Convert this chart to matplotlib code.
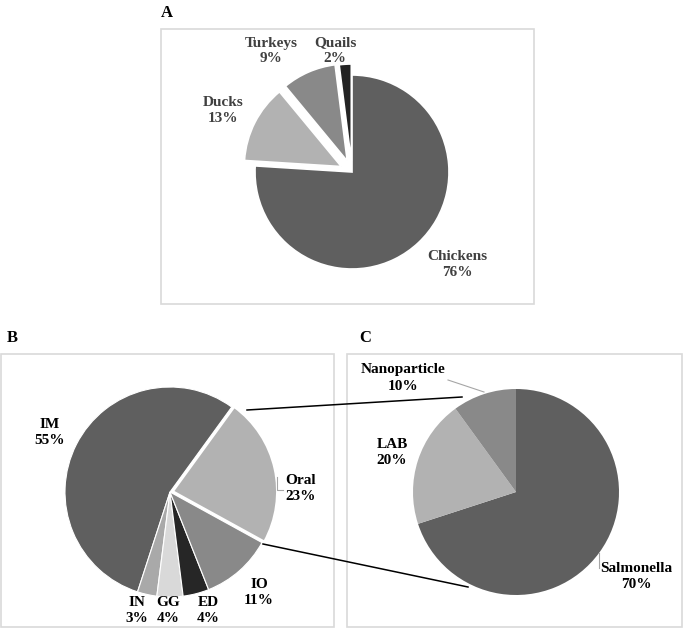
import numpy as np
import matplotlib
matplotlib.use("Agg")
import matplotlib.pyplot as plt
from matplotlib.patches import Rectangle

# ---------------- data ----------------
a_labels = ["Chickens", "Ducks", "Turkeys", "Quails"]
a_values = [76, 13, 9, 2]
a_colors = ["#5f5f5f", "#b2b2b2", "#898989", "#232323"]

b_labels = ["IM", "IN", "GG", "ED", "IO", "Oral"]
b_values = [55, 3, 4, 4, 11, 23]
b_colors = ["#5f5f5f", "#a9a9a9", "#d9d9d9", "#262626", "#898989", "#b2b2b2"]

c_labels = ["Salmonella", "LAB", "Nanoparticle"]
c_values = [70, 20, 10]
c_colors = ["#5f5f5f", "#b2b2b2", "#898989"]

# ---------------- layout (pixel coords) ----------------
W, H = 685, 630
fig = plt.figure(figsize=(W / 100, H / 100), dpi=100)
ax = fig.add_axes([0, 0, 1, 1])

def Y(y):
    return H - y

FONT = "Liberation Serif"
FS = 11

# boxes
for (x0, y0, x1, y1) in [(161, 29, 534, 304), (1, 354, 334, 627), (347, 354, 682, 627)]:
    ax.add_patch(Rectangle((x0, Y(y1)), x1 - x0, y1 - y0, fill=False,
                           edgecolor="#d9d9d9", lw=1.2, zorder=0))

# panel letters
for letter, (x, y) in zip("ABC", [(167, 13), (12, 338), (365, 338)]):
    ax.text(x, Y(y), letter, fontfamily=FONT, fontweight="bold", fontsize=12,
            ha="center", va="center", color="black")

# Pie A
ax.pie(a_values, colors=a_colors, startangle=90, counterclock=False,
       explode=[0, 12, 12, 11], center=(352, Y(172)), radius=97,
       wedgeprops=dict(edgecolor="white", linewidth=1.2), frame=True)

# Pie B
wb, _ = ax.pie(b_values, colors=b_colors, startangle=54, counterclock=True,
               explode=[0, 0, 0, 0, 0, 2.5], center=(170, Y(492)), radius=105,
               wedgeprops=dict(edgecolor="white", linewidth=0.8), frame=True)
wb[-1].set_linewidth(2.0)

# Pie C
ax.pie(c_values, colors=c_colors, startangle=90, counterclock=False,
       center=(516, Y(492)), radius=103,
       wedgeprops=dict(edgecolor="none", linewidth=0), frame=True)

# labels
def lab(text, val, x, y, color):
    ax.text(x, Y(y), f"{text}\n{val}%", fontfamily=FONT, fontweight="bold",
            fontsize=FS, ha="center", va="center", color=color, linespacing=1.3)

a_pos = [(457, 265), (223, 110), (271, 51), (335, 51)]
for t, v, p in zip(a_labels, a_values, a_pos):
    lab(t, v, p[0], p[1], "#404040")

b_pos = [(50, 433), (137, 610), (168, 610), (208, 610), (259, 593), (301, 488)]
for t, v, p in zip(b_labels, b_values, b_pos):
    lab(t, v, p[0], p[1], "black")

c_pos = [(636, 577), (392, 453), (403, 378)]
for t, v, p in zip(c_labels, c_values, c_pos):
    lab(t, v, p[0], p[1], "black")

# leader lines (grey)
ax.plot([277, 277, 283], [Y(477), Y(490), Y(490)], color="#a6a6a6", lw=0.8)
ax.plot([448, 484], [Y(380), Y(392)], color="#a6a6a6", lw=0.8)
ax.plot([599, 599], [Y(553), Y(568)], color="#a6a6a6", lw=0.8)

# connector lines (black)
ax.plot([247, 462], [Y(410), Y(397)], color="black", lw=1.1)
ax.plot([263, 468], [Y(544), Y(587)], color="black", lw=1.1)

ax.set_xlim(0, W)
ax.set_ylim(0, H)
ax.set_aspect("auto")
ax.axis("off")
fig.savefig("out.png", dpi=100, facecolor="white")
